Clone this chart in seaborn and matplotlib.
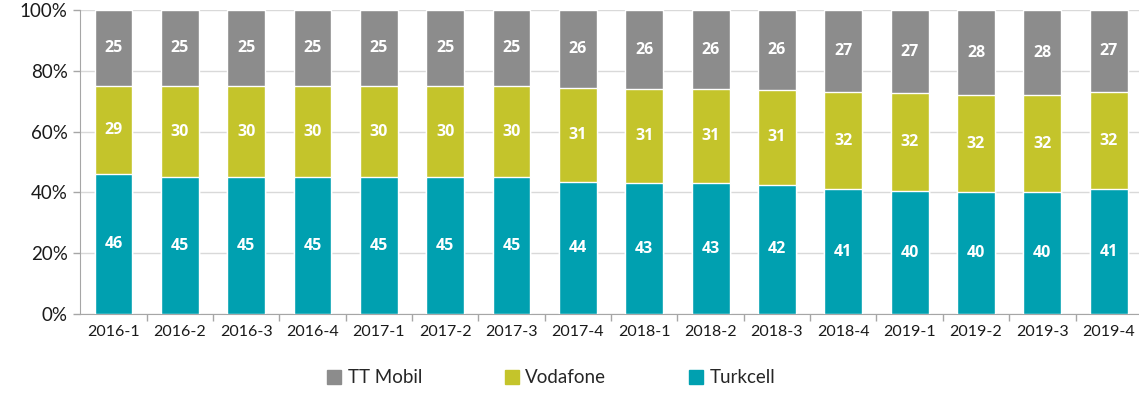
import numpy as np
import pandas as pd
import matplotlib.pyplot as plt
import seaborn as sns
from matplotlib.patches import Patch

# quarters on the x axis
quarters = ["2016-1", "2016-2", "2016-3", "2016-4", "2017-1", "2017-2", "2017-3", "2017-4",
            "2018-1", "2018-2", "2018-3", "2018-4", "2019-1", "2019-2", "2019-3", "2019-4"]

# market share per operator (%)
turkcell = [46, 45, 45, 45, 45, 45, 45, 44, 43, 43, 42, 41, 40, 40, 40, 41]
vodafone = [29, 30, 30, 30, 30, 30, 30, 31, 31, 31, 31, 32, 32, 32, 32, 32]
tt_mobil = [25, 25, 25, 25, 25, 25, 25, 26, 26, 26, 26, 27, 27, 28, 28, 27]

c_turk = "#00A0B0"
c_voda = "#C4C42B"
c_tt = "#8C8C8C"

sns.set_style("white")
plt.rcParams['font.family'] = ['Lato', 'DejaVu Sans']

df = pd.DataFrame({"quarter": quarters, "Turkcell": turkcell,
                   "Vodafone": vodafone, "TT Mobil": tt_mobil})
total = df[["Turkcell", "Vodafone", "TT Mobil"]].sum(axis=1)
df["p_turk"] = df["Turkcell"] / total * 100
df["p_voda"] = df["Vodafone"] / total * 100
df["p_tt"] = df["TT Mobil"] / total * 100
df["cum_voda"] = df["p_turk"] + df["p_voda"]
df["cum_tt"] = df["cum_voda"] + df["p_tt"]

fig = plt.figure(figsize=(11.39, 4.04), dpi=100)
ax = fig.add_axes([0.0705, 0.223, 0.932, 0.752])

w = 0.57
sns.barplot(data=df, x="quarter", y="cum_tt", color=c_tt, width=w, saturation=1, ax=ax, zorder=2)
sns.barplot(data=df, x="quarter", y="cum_voda", color=c_voda, width=w, saturation=1, ax=ax, zorder=3)
sns.barplot(data=df, x="quarter", y="p_turk", color=c_turk, width=w, saturation=1, ax=ax, zorder=4)

# value labels in the middle of each segment
lab = dict(ha="center", va="center", color="white", fontsize=11.5,
           fontweight="bold", family="Open Sans", zorder=5)
for i, row in df.iterrows():
    ax.text(i, row["p_turk"] / 2, str(row["Turkcell"]), **lab)
    ax.text(i, row["p_turk"] + row["p_voda"] / 2, str(row["Vodafone"]), **lab)
    ax.text(i, row["cum_voda"] + row["p_tt"] / 2, str(row["TT Mobil"]), **lab)

ax.set_ylim(0, 100)
ax.set_xlim(-0.5, len(quarters) - 0.5)
ax.set_yticks(np.arange(0, 101, 20))
ax.set_yticklabels([f"{v}%" for v in range(0, 101, 20)], fontsize=13.5, color="#1a1a1a")
ax.yaxis.grid(True, color="#D9D9D9", linewidth=1, zorder=0)
ax.set_axisbelow(True)
ax.set_xlabel("")
ax.set_ylabel("")
ax.tick_params(axis="x", labelsize=11.5, labelcolor="#1a1a1a", length=0, pad=8)
ax.tick_params(axis="y", length=5, width=1, color="#A6A6A6", left=True, pad=4)

# category separator ticks on the x axis
ax.set_xticks(np.arange(0.5, len(quarters) - 0.5), minor=True)
ax.tick_params(axis="x", which="minor", length=5, width=1, color="#A6A6A6", bottom=True)

for s in ["top", "right"]:
    ax.spines[s].set_visible(False)
ax.spines["left"].set_color("#A6A6A6")
ax.spines["bottom"].set_color("#A6A6A6")

handles = [Patch(color=c_tt, label="TT Mobil"),
           Patch(color=c_voda, label="Vodafone"),
           Patch(color=c_turk, label="Turkcell")]
fig.legend(handles=handles, loc="center", bbox_to_anchor=(0.484, 0.065), ncol=3,
           frameon=False, fontsize=13.5, handlelength=0.75, handleheight=0.75,
           handletextpad=0.35, columnspacing=4.4)

fig.savefig("out.png", dpi=100)
